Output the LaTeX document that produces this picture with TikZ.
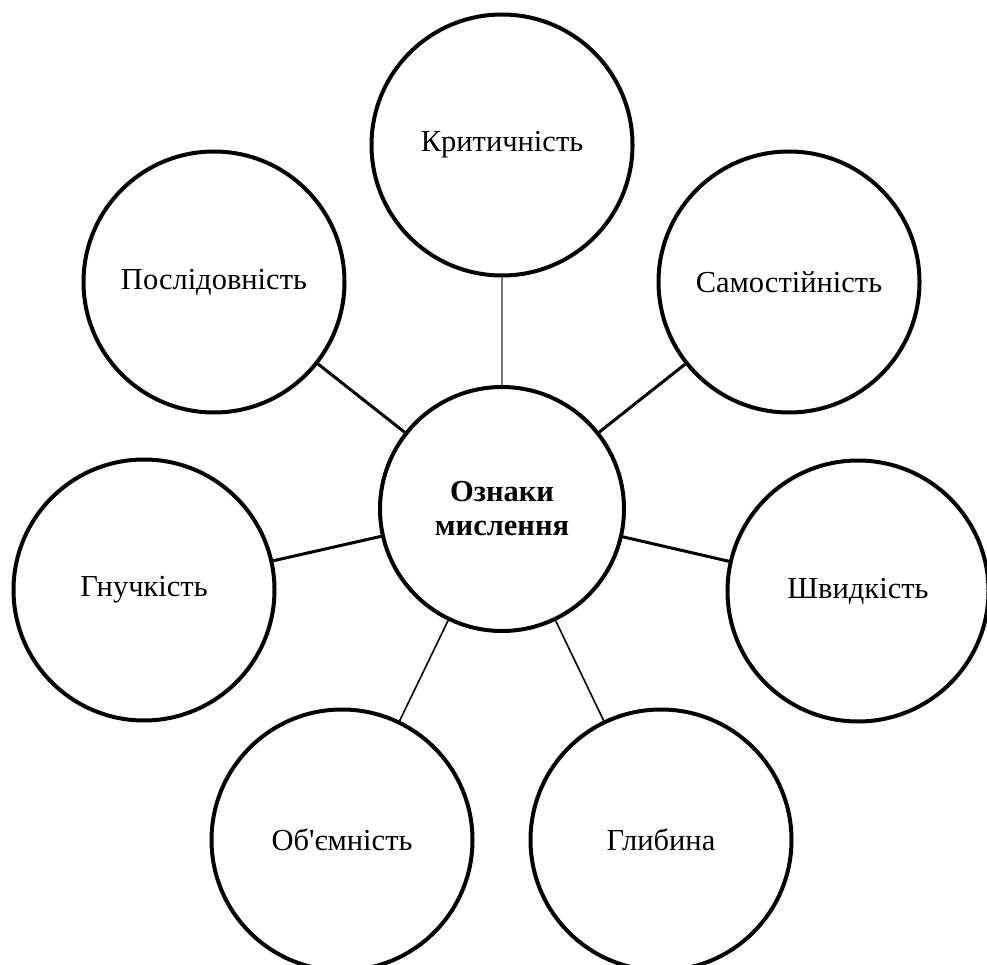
\documentclass[tikz,border=0pt]{standalone}
\usepackage{fontspec}
\setmainfont{Liberation Serif}
\begin{document}
\begin{tikzpicture}[x=1pt,y=-1pt,
  bubble/.style={circle,draw=black,line width=4pt,minimum size=261pt,inner sep=0pt,
    font=\fontsize{30.5}{34}\selectfont,align=center},
  hub/.style={bubble,minimum size=244pt,font=\fontsize{30.5}{34}\selectfont\bfseries},
  thickcon/.style={line width=3pt},
  thincon/.style={line width=1.6pt},
  graycon/.style={line width=1.3pt,draw=black!55}]
\useasboundingbox (0,0) rectangle (987,965);
\node[hub] (c) at (502,509) {Ознаки\\мислення};
\node[bubble] (krit) at (502,145) {Критичність};
\node[bubble] (posl) at (214,282) {Послідовність};
\node[bubble] (sam) at (789,282) {Самостійність};
\node[bubble] (gn) at (144,590) {Гнучкість};
\node[bubble] (shv) at (858,591) {Швидкість};
\node[bubble] (ob) at (342,840) {Об\textquotesingle{}ємність};
\node[bubble] (gl) at (661,840) {Глибина};
\draw[graycon] (krit) -- (c);
\draw[thickcon] (posl) -- (c);
\draw[thickcon] (sam) -- (c);
\draw[thickcon] (gn) -- (c);
\draw[thickcon] (shv) -- (c);
\draw[thincon] (ob) -- (c);
\draw[thincon] (gl) -- (c);
\end{tikzpicture}
\end{document}
